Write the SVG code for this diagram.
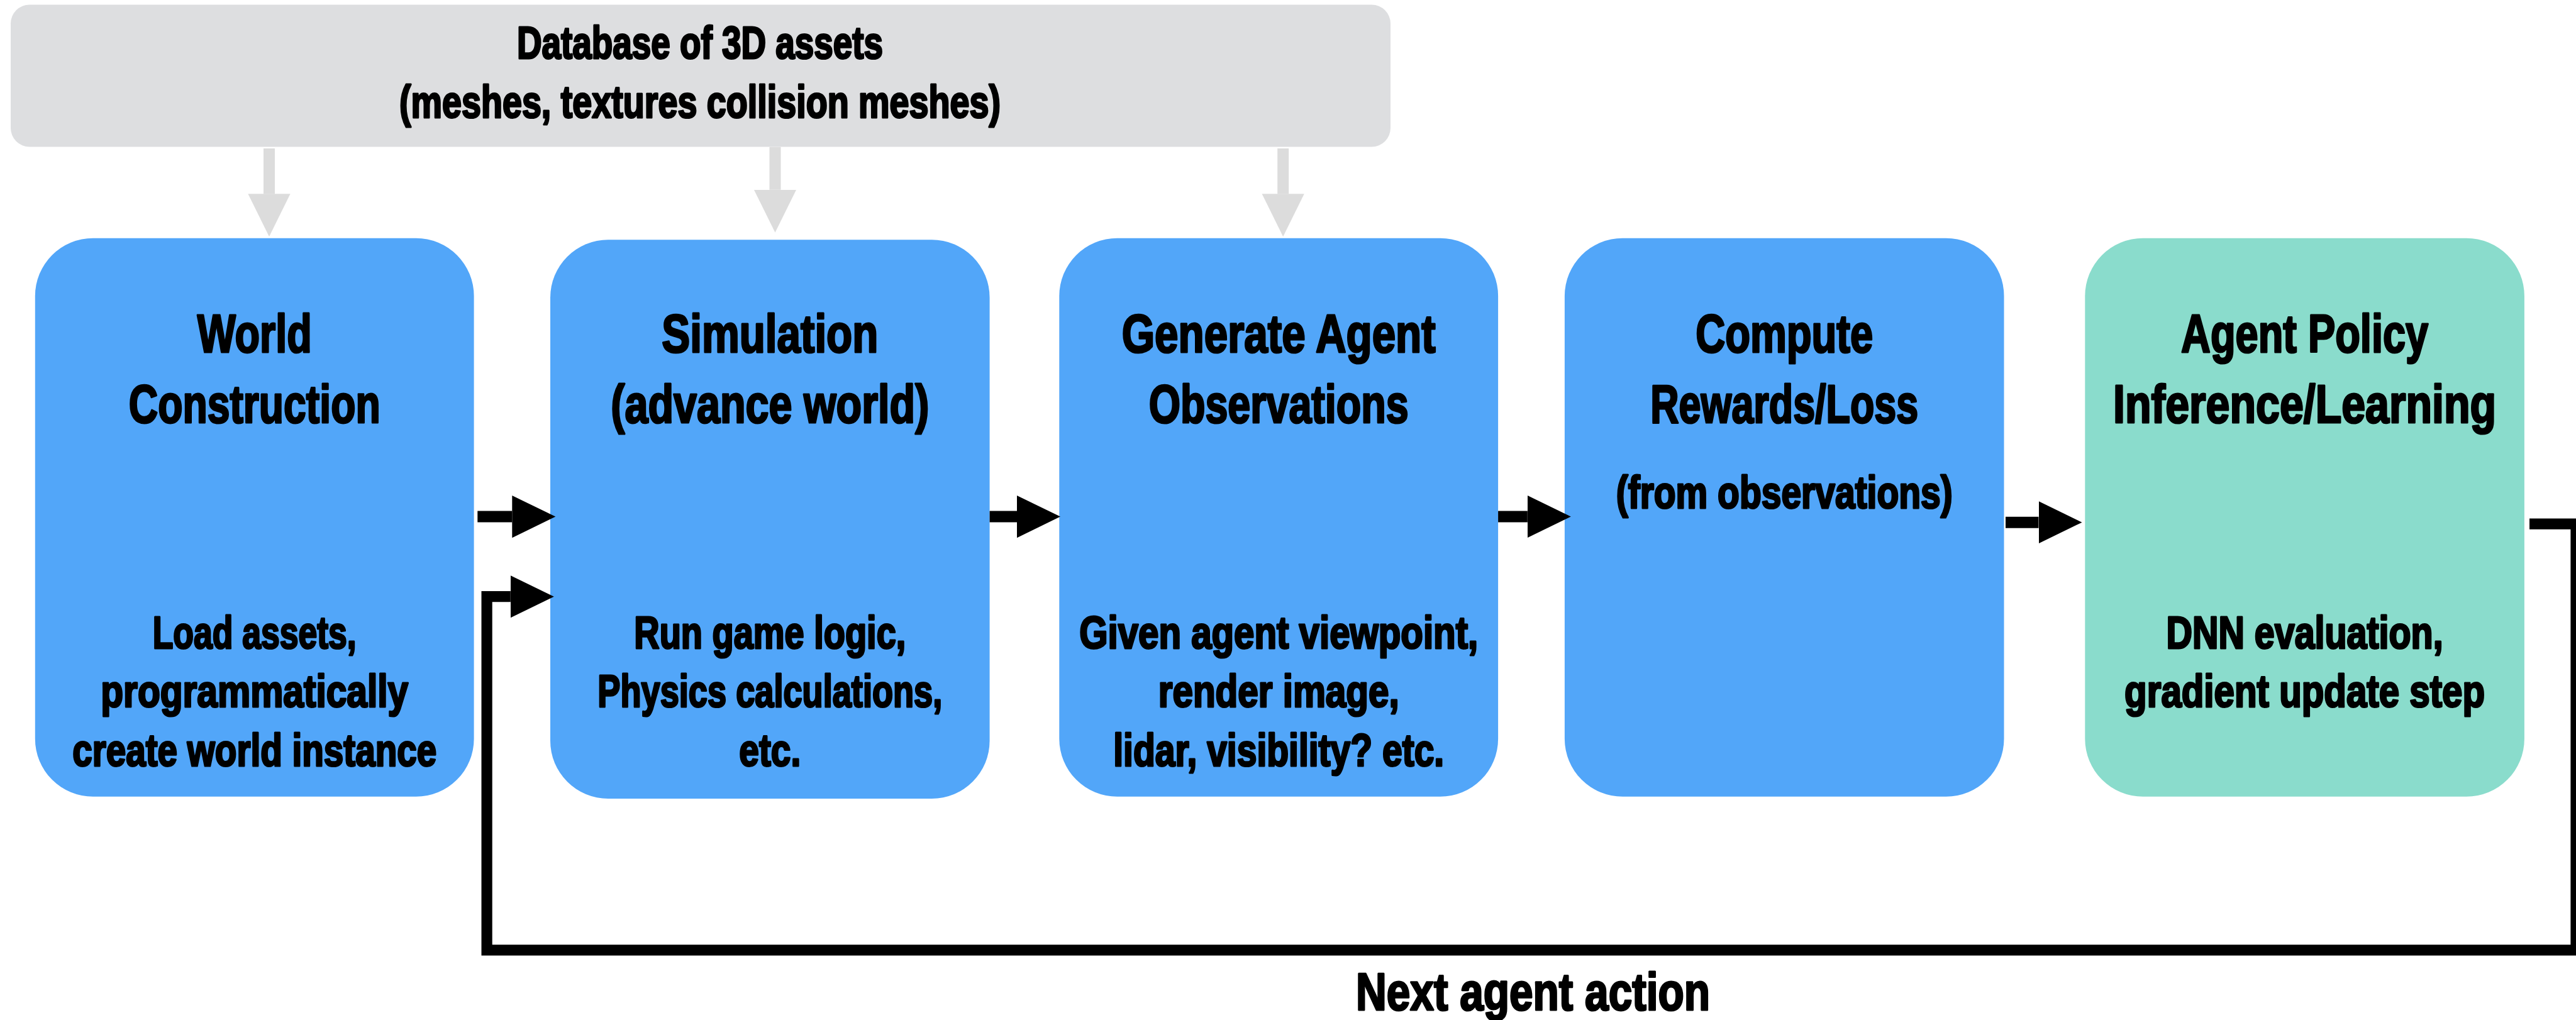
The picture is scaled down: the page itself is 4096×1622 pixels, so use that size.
<svg xmlns="http://www.w3.org/2000/svg" width="4096" height="1622" viewBox="0 0 4096 1622">
  <style>
    .lbl { font-family: "Liberation Sans", Arial, sans-serif; font-weight: bold; fill: #000; stroke: #000; stroke-width: 3.2; stroke-linejoin: round; text-anchor: middle; }
    .title { font-size: 86px; }
    .body { font-size: 72px; }
    .blue { fill: #52a6f9; }
    .mint { fill: #8adccc; }
    .grey { fill: #dddee0; }
    .flow { fill: none; stroke: #000; stroke-width: 18; stroke-linejoin: miter; }
    .feed { fill: none; stroke: #000; stroke-width: 17.2; stroke-linejoin: miter; }
    .feeder { fill: none; stroke: #dcdcdc; stroke-width: 18; }
  </style>
  <defs>
    <marker id="headBlack" markerUnits="userSpaceOnUse" markerWidth="70" markerHeight="68" refX="0" refY="33.6" orient="auto">
      <path d="M0,0 L69,33.6 L0,67.2 Z" fill="#000"/>
    </marker>
    <marker id="headGrey" markerUnits="userSpaceOnUse" markerWidth="70" markerHeight="68" refX="0" refY="33.6" orient="auto">
      <path d="M0,0 L68,33.6 L0,67.2 Z" fill="#dcdcdc"/>
    </marker>
  </defs>

  <rect width="4096" height="1622" fill="#fff"/>

  <!-- asset database; labels are drawn in a horizontally condensed frame -->
  <g id="database">
    <rect class="grey" x="17" y="7.5" width="2194" height="226" rx="30"/>
    <g transform="translate(1113 0) scale(0.68 1)">
      <text class="lbl body" x="0" y="92.7" textLength="855.9" lengthAdjust="spacingAndGlyphs">Database of 3D assets</text>
      <text class="lbl body" x="0" y="187" textLength="1405.9" lengthAdjust="spacingAndGlyphs">(meshes, textures collision meshes)</text>
    </g>
  </g>

  <!-- pipeline stages -->
  <g id="world-construction">
    <rect class="blue" x="55.8" y="378.8" width="697.8" height="888" rx="92"/>
    <g transform="translate(404.7 0) scale(0.68 1)">
      <text class="lbl title" x="0" y="560" textLength="267.6" lengthAdjust="spacingAndGlyphs">World</text>
      <text class="lbl title" x="0" y="671.6" textLength="588.2" lengthAdjust="spacingAndGlyphs">Construction</text>
      <text class="lbl body" x="0" y="1030.7" textLength="476.5" lengthAdjust="spacingAndGlyphs">Load assets,</text>
      <text class="lbl body" x="0" y="1124.2" textLength="719.1" lengthAdjust="spacingAndGlyphs">programmatically</text>
      <text class="lbl body" x="0" y="1218.5" textLength="851.5" lengthAdjust="spacingAndGlyphs">create world instance</text>
    </g>
  </g>

  <g id="simulation">
    <rect class="blue" x="875" y="381.3" width="698.6" height="888.7" rx="92"/>
    <g transform="translate(1224.3 0) scale(0.68 1)">
      <text class="lbl title" x="0" y="560" textLength="505.9" lengthAdjust="spacingAndGlyphs">Simulation</text>
      <text class="lbl title" x="0" y="671.6" textLength="744.1" lengthAdjust="spacingAndGlyphs">(advance world)</text>
      <text class="lbl body" x="0" y="1030.7" textLength="635.3" lengthAdjust="spacingAndGlyphs">Run game logic,</text>
      <text class="lbl body" x="0" y="1124.2" textLength="805.9" lengthAdjust="spacingAndGlyphs">Physics calculations,</text>
      <text class="lbl body" x="0" y="1218.5" textLength="144.1" lengthAdjust="spacingAndGlyphs">etc.</text>
    </g>
  </g>

  <g id="generate-observations">
    <rect class="blue" x="1684.3" y="378.8" width="697.8" height="888" rx="92"/>
    <g transform="translate(2033.2 0) scale(0.68 1)">
      <text class="lbl title" x="0" y="560" textLength="733.8" lengthAdjust="spacingAndGlyphs">Generate Agent</text>
      <text class="lbl title" x="0" y="671.6" textLength="607.4" lengthAdjust="spacingAndGlyphs">Observations</text>
      <text class="lbl body" x="0" y="1030.7" textLength="932.4" lengthAdjust="spacingAndGlyphs">Given agent viewpoint,</text>
      <text class="lbl body" x="0" y="1124.2" textLength="563.2" lengthAdjust="spacingAndGlyphs">render image,</text>
      <text class="lbl body" x="0" y="1218.5" textLength="773.5" lengthAdjust="spacingAndGlyphs">lidar, visibility? etc.</text>
    </g>
  </g>

  <g id="compute-rewards">
    <rect class="blue" x="2487.9" y="378.8" width="698.6" height="888" rx="92"/>
    <g transform="translate(2837.2 0) scale(0.68 1)">
      <text class="lbl title" x="0" y="560" textLength="414.7" lengthAdjust="spacingAndGlyphs">Compute</text>
      <text class="lbl title" x="0" y="671.6" textLength="626.5" lengthAdjust="spacingAndGlyphs">Rewards/Loss</text>
      <text class="lbl body" x="0" y="807.7" textLength="786.8" lengthAdjust="spacingAndGlyphs">(from observations)</text>
    </g>
  </g>

  <g id="agent-policy">
    <rect class="mint" x="3315.3" y="378.8" width="698.6" height="888" rx="92"/>
    <g transform="translate(3664.6 0) scale(0.68 1)">
      <text class="lbl title" x="0" y="560" textLength="577.9" lengthAdjust="spacingAndGlyphs">Agent Policy</text>
      <text class="lbl title" x="0" y="671.6" textLength="895.6" lengthAdjust="spacingAndGlyphs">Inference/Learning</text>
      <text class="lbl body" x="0" y="1030.7" textLength="647.1" lengthAdjust="spacingAndGlyphs">DNN evaluation,</text>
      <text class="lbl body" x="0" y="1124.2" textLength="842.6" lengthAdjust="spacingAndGlyphs">gradient update step</text>
    </g>
  </g>

  <!-- connectors -->
  <g id="connectors">
    <!-- asset feeds from the database -->
    <path class="feeder" d="M428,236 V308.3" marker-end="url(#headGrey)"/>
    <path class="feeder" d="M1232.5,233.7 V301.8" marker-end="url(#headGrey)"/>
    <path class="feeder" d="M2040.2,236 V308.3" marker-end="url(#headGrey)"/>

    <!-- stage to stage -->
    <path class="flow" d="M759.3,821.6 H814.3" marker-end="url(#headBlack)"/>
    <path class="flow" d="M1573.6,821.6 H1617" marker-end="url(#headBlack)"/>
    <path class="flow" d="M2382.1,821.6 H2428.8" marker-end="url(#headBlack)"/>
    <path class="flow" d="M3189,830.7 H3241.5" marker-end="url(#headBlack)"/>

    <!-- action loop back into simulation -->
    <path class="feed" d="M4022,833.1 H4096 V1510.9 H774.1 V948.7 H811.8" marker-end="url(#headBlack)"/>
  </g>

  <g id="loop-label" transform="translate(2437.5 0) scale(0.68 1)">
    <text class="lbl" style="font-size:84px" x="0" y="1605.6" textLength="827.9" lengthAdjust="spacingAndGlyphs">Next agent action</text>
  </g>
</svg>
